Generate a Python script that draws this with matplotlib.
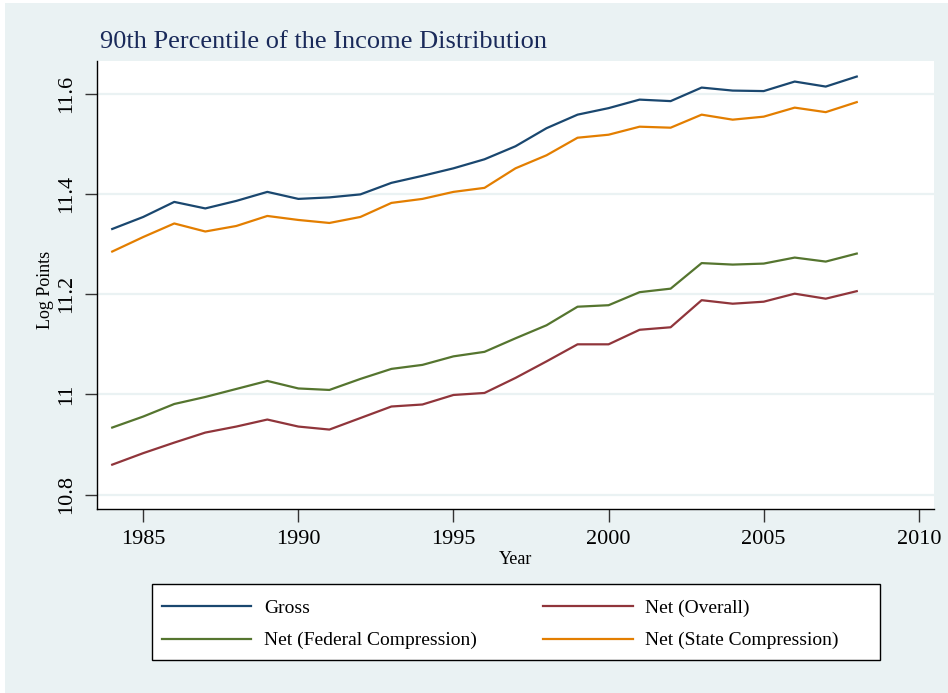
import matplotlib
matplotlib.use("Agg")
import matplotlib.pyplot as plt
from matplotlib.patches import Rectangle
from matplotlib.ticker import FixedLocator

years = list(range(1984, 2009))
gross = [11.330, 11.354, 11.384, 11.371, 11.386, 11.404, 11.390, 11.393, 11.399,
         11.422, 11.436, 11.451, 11.469, 11.495, 11.531, 11.558, 11.571, 11.588,
         11.585, 11.612, 11.606, 11.605, 11.624, 11.614, 11.634]
net_overall = [10.860, 10.883, 10.904, 10.924, 10.936, 10.950, 10.936, 10.930, 10.953,
               10.976, 10.980, 10.999, 11.003, 11.033, 11.066, 11.100, 11.100, 11.129,
               11.134, 11.188, 11.181, 11.185, 11.201, 11.191, 11.206]
net_federal = [10.934, 10.956, 10.981, 10.995, 11.011, 11.027, 11.012, 11.009, 11.031,
               11.051, 11.059, 11.076, 11.085, 11.112, 11.138, 11.175, 11.178, 11.204,
               11.211, 11.262, 11.259, 11.261, 11.273, 11.265, 11.281]
net_state = [11.285, 11.314, 11.341, 11.325, 11.336, 11.356, 11.348, 11.342, 11.354,
             11.382, 11.390, 11.404, 11.412, 11.451, 11.477, 11.512, 11.518, 11.534,
             11.532, 11.558, 11.548, 11.554, 11.572, 11.563, 11.583]

x_ticks = [1985, 1990, 1995, 2000, 2005, 2010]
y_ticks = [10.8, 11.0, 11.2, 11.4, 11.6]
y_labels = ["10.8", "11", "11.2", "11.4", "11.6"]

title = "90th Percentile of the Income Distribution"
labels = ["Gross", "Net (Overall)", "Net (Federal Compression)", "Net (State Compression)"]

BG = "#EAF2F3"
C_NAVY = "#1a476f"
C_MAROON = "#90353b"
C_GREEN = "#55752f"
C_ORANGE = "#e37e00"

plt.rcParams["font.family"] = ["Liberation Serif", "DejaVu Serif"]

W, H = 948, 693
fig = plt.figure(figsize=(W / 100, H / 100), dpi=100)
fig.patch.set_facecolor("white")
fig.patches.append(Rectangle((5 / W, 0), 1 - 5 / W, 1 - 3 / H, transform=fig.transFigure,
                             facecolor=BG, edgecolor="none", zorder=-10))

left, right, top, bottom = 96.7, 934, 61, 509.3
ax = fig.add_axes([left / W, 1 - bottom / H, (right - left) / W, (bottom - top) / H])
ax.set_facecolor("white")

h_gross, = ax.plot(years, gross, color=C_NAVY, lw=1.6, label=labels[0], zorder=3)
h_over, = ax.plot(years, net_overall, color=C_MAROON, lw=1.6, label=labels[1], zorder=3)
h_fed, = ax.plot(years, net_federal, color=C_GREEN, lw=1.6, label=labels[2], zorder=3)
h_state, = ax.plot(years, net_state, color=C_ORANGE, lw=1.6, label=labels[3], zorder=3)

ax.set_xlim(1983.5, 2010.49)
ax.set_ylim(10.771, 11.665)
ax.xaxis.set_major_locator(FixedLocator(x_ticks))
ax.yaxis.set_major_locator(FixedLocator(y_ticks))
ax.set_yticklabels(y_labels)

ax.grid(axis="y", color=BG, lw=1.6, zorder=0)
ax.grid(axis="x", visible=False)

for s in ["top", "right"]:
    ax.spines[s].set_visible(False)
ax.spines["left"].set_color("black")
ax.spines["bottom"].set_color("black")
ax.spines["left"].set_linewidth(1.0)
ax.spines["bottom"].set_linewidth(1.0)

ax.tick_params(axis="both", direction="out", length=9, width=1.0, color="#333333",
               labelsize=16, labelcolor="black")
ax.tick_params(axis="x", pad=6)
ax.tick_params(axis="y", pad=6)
for lab in ax.get_yticklabels():
    lab.set_rotation(90)
    lab.set_va("center")

ax.set_xlabel("Year", fontsize=13, labelpad=1)
fig.text(46 / W, 1 - 290 / H, "Log Points", fontsize=13, rotation=90,
         ha="center", va="center")

fig.text(100 / W, 1 - 42 / H, title, fontsize=19, color="#1a2a5a", va="center", ha="left")

# legend frame
fig.patches.append(Rectangle((152 / W, 1 - 660 / H), (880 - 152) / W, (660 - 584) / H,
                             transform=fig.transFigure, facecolor="white",
                             edgecolor="black", lw=1.0, zorder=1))

# legend: column-major fill -> rows: Gross | Net (Overall) ; Net (Federal) | Net (State)
leg_handles = [h_gross, h_fed, h_over, h_state]
leg_labels = [labels[0], labels[2], labels[1], labels[3]]
leg = fig.legend(leg_handles, leg_labels, ncol=2,
                 loc="center left",
                 bbox_to_anchor=(162 / W, 1 - 624.5 / H),
                 fontsize=14, frameon=False, handlelength=4.6, handletextpad=0.65,
                 borderpad=0, labelspacing=0.75, columnspacing=3.4, borderaxespad=0)

fig.savefig("out.png", dpi=100, facecolor=fig.get_facecolor())
